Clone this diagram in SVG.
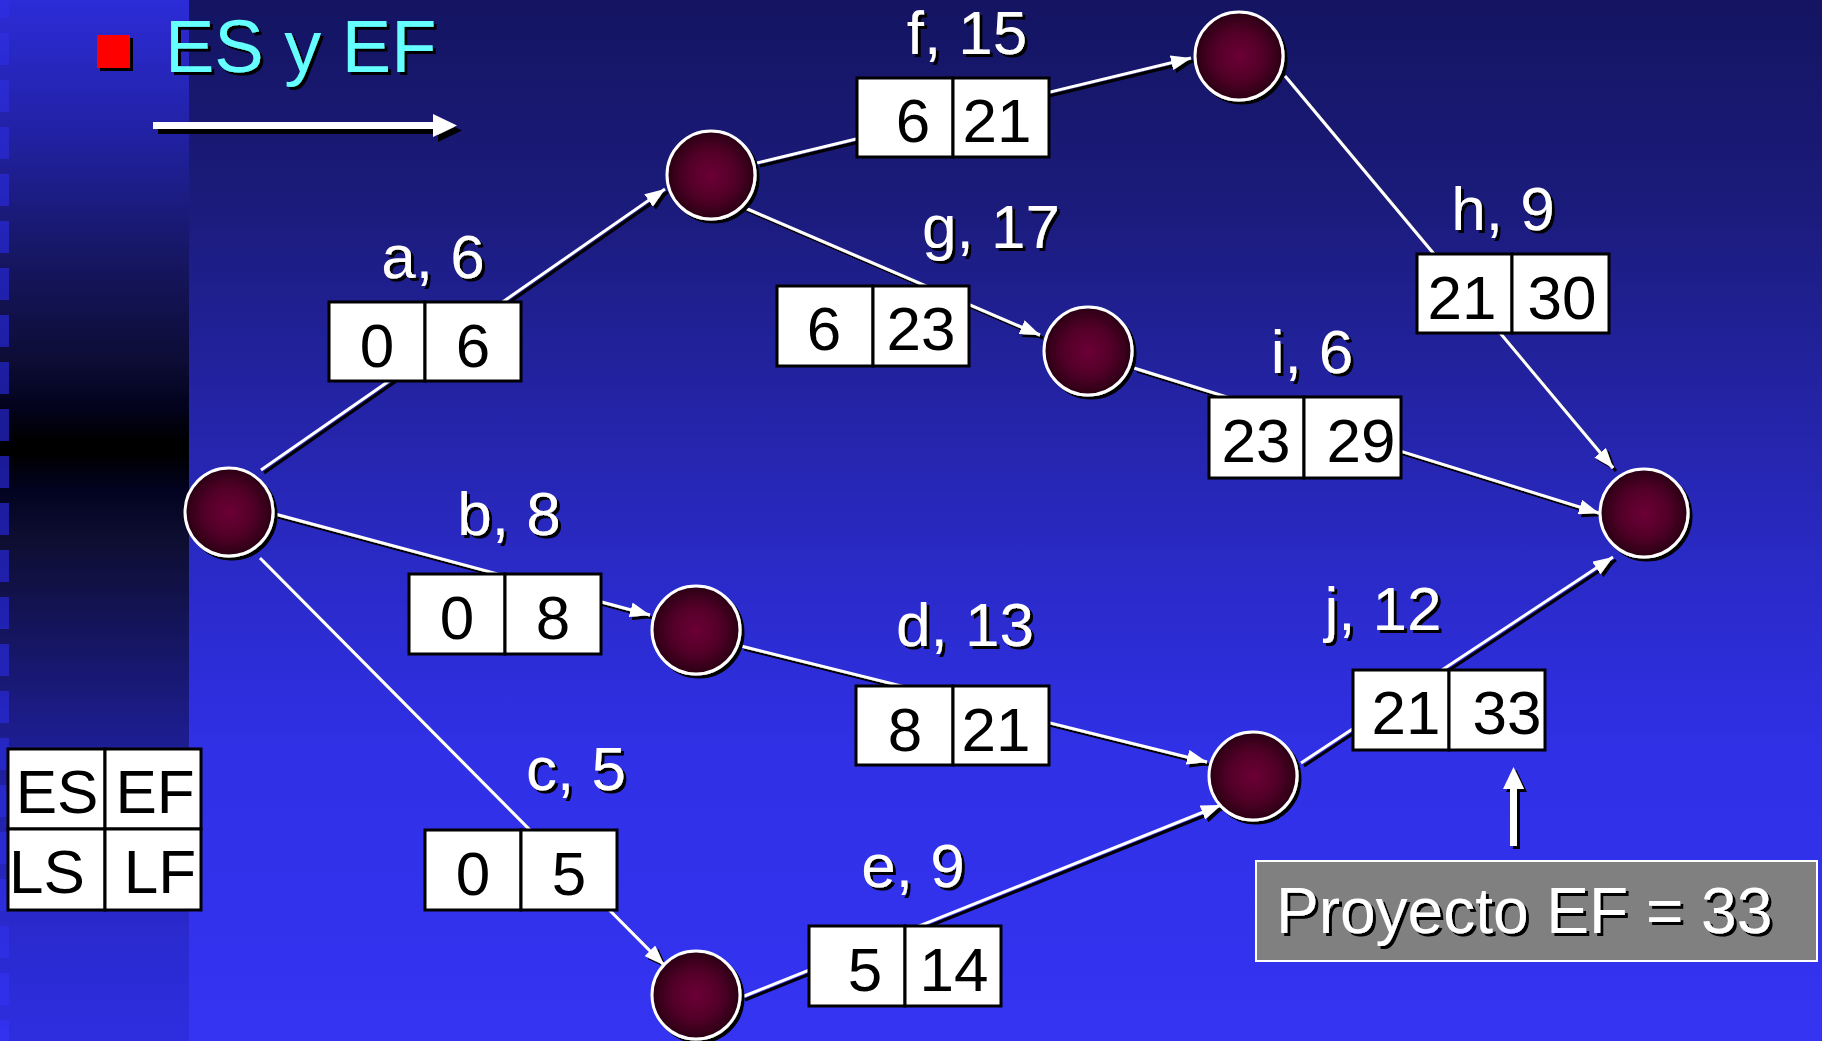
<svg xmlns="http://www.w3.org/2000/svg" width="1822" height="1041" viewBox="0 0 1822 1041">
<defs>
<linearGradient id="bgMain" x1="0" y1="0" x2="0" y2="1">
<stop offset="0" stop-color="#141462"/>
<stop offset="0.2" stop-color="#1b1b7c"/>
<stop offset="0.4" stop-color="#2424a8"/>
<stop offset="0.55" stop-color="#2a2ac8"/>
<stop offset="0.72" stop-color="#3030e6"/>
<stop offset="1" stop-color="#3434f2"/>
</linearGradient>
<linearGradient id="bgStrip" x1="0" y1="0" x2="0" y2="1">
<stop offset="0" stop-color="#2c2cd8"/>
<stop offset="0.12" stop-color="#2222a8"/>
<stop offset="0.25" stop-color="#161662"/>
<stop offset="0.35" stop-color="#0c0c34"/>
<stop offset="0.39" stop-color="#03031e"/>
<stop offset="0.425" stop-color="#000000"/>
<stop offset="0.435" stop-color="#000000"/>
<stop offset="0.47" stop-color="#020220"/>
<stop offset="0.52" stop-color="#0e0e32"/>
<stop offset="0.6" stop-color="#14145a"/>
<stop offset="0.72" stop-color="#1e1e96"/>
<stop offset="0.9" stop-color="#2a2ad0"/>
<stop offset="1" stop-color="#2e2ee0"/>
</linearGradient>
<linearGradient id="bgTick" x1="0" y1="0" x2="0" y2="1">
<stop offset="0" stop-color="#2e2ee0"/>
<stop offset="0.42" stop-color="#1a1a96"/>
<stop offset="1" stop-color="#3232f0"/>
</linearGradient>
<pattern id="ticks" x="0" y="-14" width="10" height="47" patternUnits="userSpaceOnUse">
<rect x="0" y="0" width="10" height="32" fill="#ffffff"/>
</pattern>
<mask id="tickMask"><rect x="0" y="0" width="9" height="1041" fill="url(#ticks)"/></mask>
<radialGradient id="nodeFill" cx="0.5" cy="0.5" r="0.5">
<stop offset="0" stop-color="#6c0036"/>
<stop offset="0.55" stop-color="#520028"/>
<stop offset="1" stop-color="#2a0014"/>
</radialGradient>
<filter id="sh" filterUnits="userSpaceOnUse" x="0" y="0" width="1822" height="1041">
<feDropShadow dx="3" dy="3" stdDeviation="0.6" flood-color="#000000" flood-opacity="1"/>
</filter>
<filter id="sh5" filterUnits="userSpaceOnUse" x="0" y="0" width="1822" height="1041">
<feDropShadow dx="5" dy="5" stdDeviation="0.5" flood-color="#000000" flood-opacity="1"/>
</filter>
<marker id="arr" markerUnits="userSpaceOnUse" viewBox="0 0 20 15" refX="20" refY="7.5" markerWidth="20" markerHeight="15" orient="auto">
<path d="M0,0 L20,7.5 L0,15 z" fill="#ffffff"/>
</marker>
<style>
.lbl{font-family:"Liberation Sans",Arial,sans-serif;font-size:62px;fill:#ffffff;text-anchor:middle}
.num{font-family:"Liberation Sans",Arial,sans-serif;font-size:62px;fill:#000000;text-anchor:middle}
.cell{fill:#ffffff;stroke:#000000;stroke-width:3}
.node{fill:url(#nodeFill);stroke:#ffffff;stroke-width:3}
.conn{stroke:#ffffff;stroke-width:3;fill:none;marker-end:url(#arr)}
</style>
</defs>

<g id="background">
<rect x="0" y="0" width="1822" height="1041" fill="url(#bgMain)"/>
<rect x="0" y="0" width="189" height="1041" fill="url(#bgStrip)"/>
<rect x="0" y="0" width="9" height="1041" fill="url(#bgTick)" mask="url(#tickMask)"/>
</g>

<g id="title" filter="url(#sh)">
<rect x="97" y="35" width="33" height="33" fill="#ff0000"/>
<text x="165" y="72" font-family="Liberation Sans, Arial, sans-serif" font-size="74" fill="#66ffff">ES y EF</text>
</g>
<g id="direction-arrow" filter="url(#sh5)">
<rect x="153" y="122" width="282" height="7" fill="#ffffff"/>
<path d="M433,114 L457,125.5 L433,137 z" fill="#ffffff"/>
</g>

<g id="connectors" filter="url(#sh)">
<path class="conn" d="M261,470 L665,189"/>
<path class="conn" d="M275,514 L650,615"/>
<path class="conn" d="M260,558 L664,965"/>
<path class="conn" d="M741,646 L1207,762"/>
<path class="conn" d="M742,997 L1221,805"/>
<path class="conn" d="M757,163 L1191,58"/>
<path class="conn" d="M743,207 L1040,335"/>
<path class="conn" d="M1285,76 L1613,468"/>
<path class="conn" d="M1134,368 L1599,513"/>
<path class="conn" d="M1301,763 L1613,557"/>
</g>

<g id="act-a">
<text class="lbl" x="433" y="278" filter="url(#sh)">a, 6</text>
<rect class="cell" x="329" y="302" width="96" height="79"/>
<rect class="cell" x="425" y="302" width="96" height="79"/>
<text class="num" x="377" y="367">0</text>
<text class="num" x="473" y="367">6</text>
</g>
<g id="act-b">
<text class="lbl" x="509" y="535" filter="url(#sh)">b, 8</text>
<rect class="cell" x="409" y="574" width="96" height="80"/>
<rect class="cell" x="505" y="574" width="96" height="80"/>
<text class="num" x="457" y="639">0</text>
<text class="num" x="553" y="639">8</text>
</g>
<g id="act-c">
<text class="lbl" x="576" y="790" filter="url(#sh)">c, 5</text>
<rect class="cell" x="425" y="830" width="96" height="80"/>
<rect class="cell" x="521" y="830" width="96" height="80"/>
<text class="num" x="473" y="895">0</text>
<text class="num" x="569" y="895">5</text>
</g>
<g id="act-d">
<text class="lbl" x="965" y="646" filter="url(#sh)">d, 13</text>
<rect class="cell" x="856" y="686" width="97" height="79"/>
<rect class="cell" x="953" y="686" width="96" height="79"/>
<text class="num" x="905" y="751">8</text>
<text class="num" x="996" y="751">21</text>
</g>
<g id="act-e">
<text class="lbl" x="913" y="887" filter="url(#sh)">e, 9</text>
<rect class="cell" x="809" y="926" width="96" height="80"/>
<rect class="cell" x="905" y="926" width="96" height="80"/>
<text class="num" x="865" y="991">5</text>
<text class="num" x="954" y="991">14</text>
</g>
<g id="act-f">
<text class="lbl" x="967" y="54" filter="url(#sh)">f, 15</text>
<rect class="cell" x="857" y="78" width="96" height="79"/>
<rect class="cell" x="953" y="78" width="96" height="79"/>
<text class="num" x="913" y="142">6</text>
<text class="num" x="997" y="142">21</text>
</g>
<g id="act-g">
<text class="lbl" x="991" y="248" filter="url(#sh)">g, 17</text>
<rect class="cell" x="777" y="286" width="96" height="80"/>
<rect class="cell" x="873" y="286" width="96" height="80"/>
<text class="num" x="824" y="350">6</text>
<text class="num" x="921" y="350">23</text>
</g>
<g id="act-h">
<text class="lbl" x="1503" y="230" filter="url(#sh)">h, 9</text>
<rect class="cell" x="1417" y="254" width="95" height="79"/>
<rect class="cell" x="1512" y="254" width="97" height="79"/>
<text class="num" x="1462" y="319">21</text>
<text class="num" x="1562" y="319">30</text>
</g>
<g id="act-i">
<text class="lbl" x="1312" y="373" filter="url(#sh)">i, 6</text>
<rect class="cell" x="1209" y="397" width="95" height="81"/>
<rect class="cell" x="1304" y="397" width="97" height="81"/>
<text class="num" x="1256" y="462">23</text>
<text class="num" x="1361" y="462">29</text>
</g>
<g id="act-j">
<text class="lbl" x="1383" y="630" filter="url(#sh)">j, 12</text>
<rect class="cell" x="1353" y="670" width="96" height="80"/>
<rect class="cell" x="1449" y="670" width="96" height="80"/>
<text class="num" x="1406" y="734">21</text>
<text class="num" x="1507" y="734">33</text>
</g>

<g id="node-1" filter="url(#sh)"><circle class="node" cx="229" cy="512" r="44"/></g>
<g id="node-2" filter="url(#sh)"><circle class="node" cx="711" cy="175" r="44"/></g>
<g id="node-3" filter="url(#sh)"><circle class="node" cx="696" cy="630" r="44"/></g>
<g id="node-4" filter="url(#sh)"><circle class="node" cx="696" cy="995" r="44"/></g>
<g id="node-5" filter="url(#sh)"><circle class="node" cx="1239" cy="56" r="44"/></g>
<g id="node-6" filter="url(#sh)"><circle class="node" cx="1088" cy="351" r="44"/></g>
<g id="node-7" filter="url(#sh)"><circle class="node" cx="1253" cy="776" r="44"/></g>
<g id="node-8" filter="url(#sh)"><circle class="node" cx="1644" cy="513" r="44"/></g>

<g id="legend">
<rect class="cell" x="8" y="749" width="97" height="80"/>
<rect class="cell" x="105" y="749" width="96" height="80"/>
<rect class="cell" x="8" y="829" width="97" height="81"/>
<rect class="cell" x="105" y="829" width="96" height="81"/>
<text class="num" x="57" y="813">ES</text>
<text class="num" x="155" y="813">EF</text>
<text class="num" x="47" y="893">LS</text>
<text class="num" x="160" y="893">LF</text>
</g>

<g id="result-arrow" filter="url(#sh)">
<rect x="1510" y="785" width="7" height="61" fill="#ffffff"/>
<path d="M1513.5,767 L1524,789 L1503,789 z" fill="#ffffff"/>
</g>
<g id="result">
<rect x="1256" y="861" width="561" height="100" fill="#808080" stroke="#ffffff" stroke-width="2"/>
<text x="1276" y="933" font-family="Liberation Sans, Arial, sans-serif" font-size="64" fill="#ffffff" filter="url(#sh)">Proyecto EF = 33</text>
</g>
</svg>
